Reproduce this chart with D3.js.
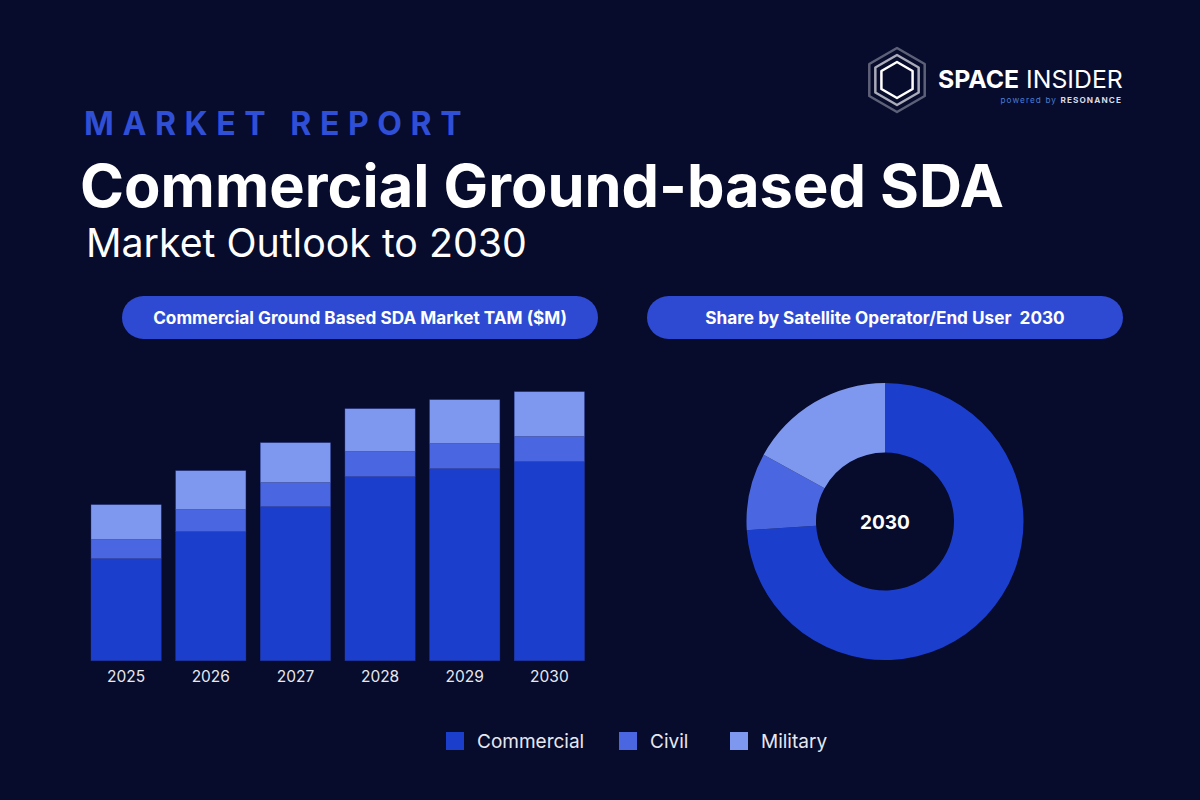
<!DOCTYPE html>
<html>
<head>
<meta charset="utf-8">
<script src="https://cdn.jsdelivr.net/npm/d3@7"></script>
<style>
  html, body { margin: 0; padding: 0; background: #070b2c; }
  svg { display: block; font-family: Inter, "Noto Sans", sans-serif; }
</style>
</head>
<body>
<div id="chart"></div>
<script>
// TAM by year ($M), stacked by end user
const years = ["2025", "2026", "2027", "2028", "2029", "2030"]
const commercial = [102, 129, 154, 184, 192, 199]
const civil = [19, 22, 24, 25, 25, 25]
const military = [35, 39, 40, 43, 44, 45]

// share of 2030 (%)
const shareLabels = ["Commercial", "Civil", "Military"]
const share2030 = [74, 9, 17]

const seriesNames = ["Commercial", "Civil", "Military"]
const colors = ["#1c3ecd", "#4a67e1", "#7f98ef"]

const W = 1200, H = 800
const svg = d3.select("#chart").append("svg")
    .attr("width", W)
    .attr("height", H)

svg.append("rect").attr("width", W).attr("height", H).attr("fill", "#070b2c")

// header
svg.append("text")
    .attr("x", 84).attr("y", 135)
    .attr("fill", "#2f4fd6")
    .attr("font-size", 32).attr("font-weight", 700)
    .attr("letter-spacing", 8.6)
    .text("MARKET REPORT")

svg.append("text")
    .attr("x", 80).attr("y", 207)
    .attr("fill", "#ffffff")
    .attr("font-size", 59).attr("font-weight", 700)
    .attr("textLength", 924).attr("lengthAdjust", "spacingAndGlyphs")
    .text("Commercial Ground-based SDA")

svg.append("text")
    .attr("x", 86).attr("y", 257)
    .attr("fill", "#ffffff")
    .attr("font-size", 39.3).attr("font-weight", 400)
    .text("Market Outlook to 2030")

// logo
const logo = svg.append("g").attr("transform", "translate(897,80)")
const hex = r => d3.range(6).map(i => {
    const a = Math.PI / 3 * i - Math.PI / 2
    return [r * Math.cos(a), r * Math.sin(a)]
})
const hexLine = d3.line().curve(d3.curveLinearClosed)
logo.append("path").attr("d", hexLine(hex(32))).attr("fill", "none").attr("stroke", "#5d6177").attr("stroke-width", 2.5).attr("stroke-linejoin", "round")
logo.append("path").attr("d", hexLine(hex(25))).attr("fill", "none").attr("stroke", "#a9abb8").attr("stroke-width", 2.5).attr("stroke-linejoin", "round")
logo.append("path").attr("d", hexLine(hex(18))).attr("fill", "none").attr("stroke", "#ffffff").attr("stroke-width", 2.5).attr("stroke-linejoin", "round")

const logoText = svg.append("text")
    .attr("x", 938).attr("y", 88)
    .attr("fill", "#ffffff")
    .attr("font-size", 24.8)
logoText.append("tspan").attr("font-weight", 700).text("SPACE")
logoText.append("tspan").attr("font-weight", 400).text(" INSIDER")

const powered = svg.append("text")
    .attr("x", 1122).attr("y", 103)
    .attr("text-anchor", "end")
    .attr("font-size", 8.2)
    .attr("letter-spacing", 1.1)
powered.append("tspan").attr("fill", "#4a7fd4").text("powered by ")
powered.append("tspan").attr("fill", "#d8dbe6").attr("font-weight", 700).text("RESONANCE")

// pills
const pills = [
    { x: 122, w: 476, label: "Commercial Ground Based SDA Market TAM ($M)" },
    { x: 647, w: 476, label: "Share by Satellite Operator/End User  2030" }
]
pills.forEach(p => {
    svg.append("rect")
        .attr("x", p.x).attr("y", 296)
        .attr("width", p.w).attr("height", 43)
        .attr("rx", 21.5)
        .attr("fill", "#2e4ad2")
    svg.append("text")
        .attr("x", p.x + p.w / 2).attr("y", 323.5)
        .attr("text-anchor", "middle")
        .attr("fill", "#ffffff")
        .attr("font-size", 17.2).attr("font-weight", 700)
        .style("white-space", "pre")
        .text(p.label)
})

// stacked bars
const table = years.map((y, i) => ({
    year: y,
    Commercial: commercial[i],
    Civil: civil[i],
    Military: military[i]
}))
const stacked = d3.stack().keys(seriesNames)(table)

const x = d3.scaleBand()
    .domain(years)
    .range([91, 584.5])
    .paddingInner(0.17)
    .paddingOuter(0)

const y = d3.scaleLinear()
    .domain([0, 269])
    .range([660.7, 391.7])

const color = d3.scaleOrdinal().domain(seriesNames).range(colors)

svg.append("g")
    .selectAll("g")
    .data(stacked)
    .enter().append("g")
    .attr("fill", d => color(d.key))
    .selectAll("rect")
    .data(d => d)
    .enter().append("rect")
    .attr("x", d => x(d.data.year))
    .attr("y", d => y(d[1]))
    .attr("width", x.bandwidth())
    .attr("height", d => y(d[0]) - y(d[1]))
    .attr("stroke", "#2a3b9a")
    .attr("stroke-opacity", 0.6)
    .attr("stroke-width", 0.6)

const xAxis = svg.append("g")
    .attr("transform", "translate(0,667)")
    .call(d3.axisBottom(x).tickSize(0).tickPadding(0))
xAxis.select(".domain").remove()
xAxis.selectAll("text")
    .attr("fill", "#e6e8f0")
    .attr("font-size", 15.5)
    .attr("font-family", "Inter, sans-serif")
    .attr("dy", "0.95em")

// donut
const pie = d3.pie().sort(null).value(d => d.v)
const arc = d3.arc().innerRadius(69).outerRadius(138.5)
const donut = svg.append("g").attr("transform", "translate(885,521.5)")
donut.selectAll("path")
    .data(pie(shareLabels.map((k, i) => ({ k: k, v: share2030[i] }))))
    .enter().append("path")
    .attr("d", arc)
    .attr("fill", d => color(d.data.k))

donut.append("text")
    .attr("y", 7)
    .attr("text-anchor", "middle")
    .attr("fill", "#ffffff")
    .attr("font-size", 19).attr("font-weight", 700)
    .text("2030")

// legend
const legendX = [446, 619, 730]
const legend = svg.append("g")
    .selectAll("g")
    .data(seriesNames)
    .enter().append("g")
    .attr("transform", (d, i) => "translate(" + legendX[i] + ",732)")
legend.append("rect")
    .attr("width", 18).attr("height", 18)
    .attr("fill", d => color(d))
legend.append("text")
    .attr("x", 31).attr("y", 16)
    .attr("fill", "#e6e8f0")
    .attr("font-size", 19)
    .text(d => d)
</script>
</body>
</html>
